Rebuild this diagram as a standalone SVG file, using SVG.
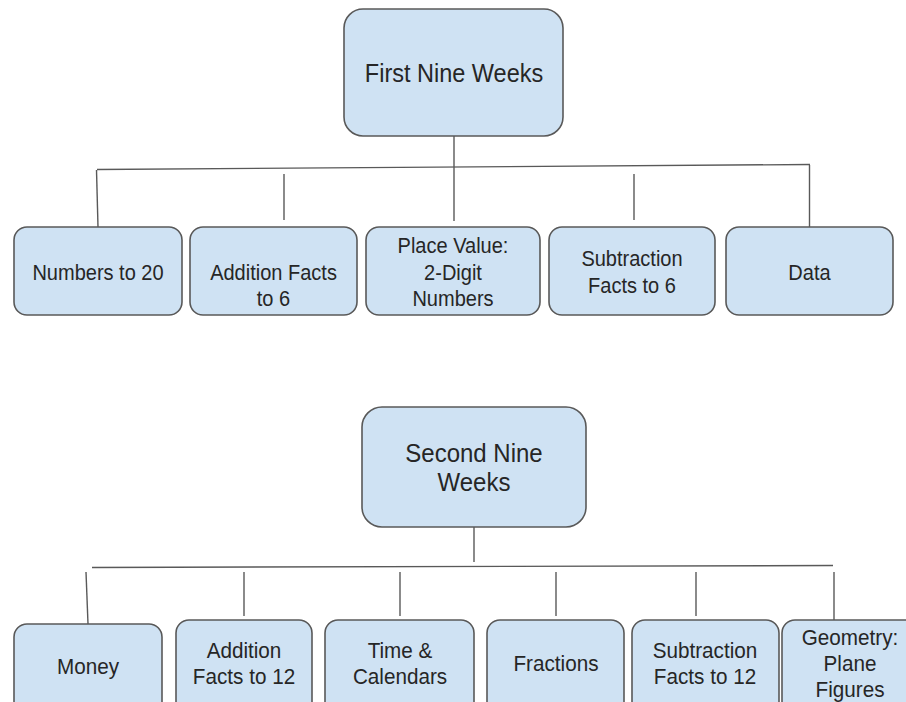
<svg xmlns="http://www.w3.org/2000/svg" width="906" height="702" viewBox="0 0 906 702">
<style>
.box{fill:#cfe2f3;stroke:#595959;stroke-width:1.6}
.ln{stroke:#595959;stroke-width:1.4;fill:none}
.t{font-family:"Liberation Sans",Arial,sans-serif;fill:#262626;text-anchor:middle}
.root{font-size:25px}
.ch{font-size:22px}
</style>
<rect width="906" height="702" fill="#ffffff"/>
<g id="connectors">
<line class="ln" x1="454" y1="136" x2="454" y2="221"/>
<line class="ln" x1="97" y1="169.5" x2="810" y2="164.5"/>
<line class="ln" x1="96.5" y1="170" x2="98" y2="227"/>
<line class="ln" x1="284" y1="174" x2="284" y2="220"/>
<line class="ln" x1="634" y1="174" x2="634" y2="220"/>
<line class="ln" x1="809.5" y1="165" x2="809.5" y2="227"/>
<line class="ln" x1="474" y1="527" x2="474" y2="562"/>
<line class="ln" x1="92" y1="567.5" x2="833" y2="565.5"/>
<line class="ln" x1="86" y1="572" x2="88" y2="624"/>
<line class="ln" x1="244" y1="572" x2="244" y2="616"/>
<line class="ln" x1="400" y1="572" x2="400" y2="616"/>
<line class="ln" x1="556" y1="572" x2="556" y2="616"/>
<line class="ln" x1="696" y1="572" x2="696" y2="616"/>
<line class="ln" x1="834" y1="572" x2="834" y2="620"/>
</g>
<g id="first-nine-weeks">
<rect class="box" x="344" y="9" width="219" height="127" rx="19"/>
<text class="t root" transform="translate(454,0) scale(0.94,1)"><tspan x="0" y="82">First Nine Weeks</tspan></text>
</g>
<g id="numbers-to-20">
<rect class="box" x="14" y="227" width="168" height="88" rx="13"/>
<text class="t ch" transform="translate(98,0) scale(0.91,1)"><tspan x="0" y="280">Numbers to 20</tspan></text>
</g>
<g id="addition-facts-6">
<rect class="box" x="190" y="227" width="167" height="88" rx="13"/>
<text class="t ch" transform="translate(273.5,0) scale(0.91,1)"><tspan x="0" y="280">Addition Facts</tspan><tspan x="0" y="306.5">to 6</tspan></text>
</g>
<g id="place-value">
<rect class="box" x="366" y="227" width="174" height="88" rx="13"/>
<text class="t ch" transform="translate(453,0) scale(0.91,1)"><tspan x="0" y="253">Place Value:</tspan><tspan x="0" y="280">2-Digit</tspan><tspan x="0" y="306.5">Numbers</tspan></text>
</g>
<g id="subtraction-facts-6">
<rect class="box" x="549" y="227" width="166" height="88" rx="13"/>
<text class="t ch" transform="translate(632,0) scale(0.91,1)"><tspan x="0" y="266">Subtraction</tspan><tspan x="0" y="293">Facts to 6</tspan></text>
</g>
<g id="data">
<rect class="box" x="726" y="227" width="167" height="88" rx="13"/>
<text class="t ch" transform="translate(809.5,0) scale(0.91,1)"><tspan x="0" y="280">Data</tspan></text>
</g>
<g id="second-nine-weeks">
<rect class="box" x="362" y="407" width="224" height="120" rx="20"/>
<text class="t root" transform="translate(474,0) scale(0.96,1)"><tspan x="0" y="462">Second Nine</tspan><tspan x="0" y="491">Weeks</tspan></text>
</g>
<g id="money">
<rect class="box" x="14" y="624" width="148" height="100" rx="13"/>
<text class="t ch" transform="translate(88,0) scale(0.94,1)"><tspan x="0" y="674">Money</tspan></text>
</g>
<g id="addition-facts-12">
<rect class="box" x="176" y="620" width="136" height="104" rx="13"/>
<text class="t ch" transform="translate(244,0) scale(0.94,1)"><tspan x="0" y="658">Addition</tspan><tspan x="0" y="684">Facts to 12</tspan></text>
</g>
<g id="time-calendars">
<rect class="box" x="325" y="620" width="149" height="104" rx="13"/>
<text class="t ch" transform="translate(400,0) scale(0.94,1)"><tspan x="0" y="658">Time &amp;</tspan><tspan x="0" y="684">Calendars</tspan></text>
</g>
<g id="fractions">
<rect class="box" x="487" y="620" width="137" height="104" rx="13"/>
<text class="t ch" transform="translate(556,0) scale(0.94,1)"><tspan x="0" y="671">Fractions</tspan></text>
</g>
<g id="subtraction-facts-12">
<rect class="box" x="632" y="620" width="147" height="104" rx="13"/>
<text class="t ch" transform="translate(705,0) scale(0.94,1)"><tspan x="0" y="658">Subtraction</tspan><tspan x="0" y="684">Facts to 12</tspan></text>
</g>
<g id="geometry-plane-figures">
<rect class="box" x="782" y="620" width="140" height="104" rx="13"/>
<text class="t ch" transform="translate(850,0) scale(0.94,1)"><tspan x="0" y="645">Geometry:</tspan><tspan x="0" y="671">Plane</tspan><tspan x="0" y="697">Figures</tspan></text>
</g>
</svg>
